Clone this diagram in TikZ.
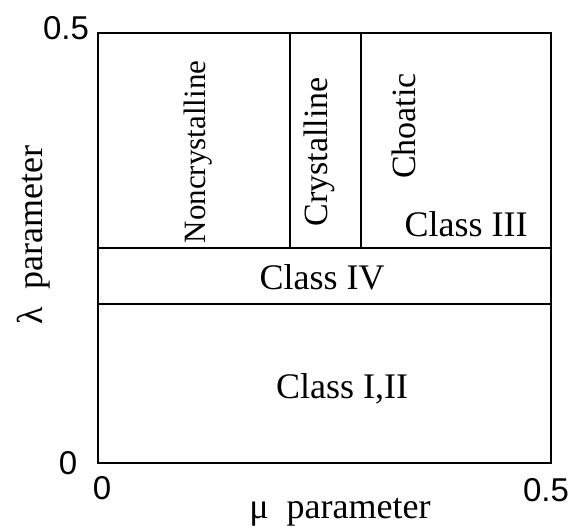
\documentclass[tikz,border=0pt]{standalone}
\usepackage{fontspec}
\setmainfont{Liberation Serif}
\newfontfamily\numfont{Liberation Sans}
\usetikzlibrary{positioning}

\begin{document}
\begin{tikzpicture}[x=1pt, y=-1pt, line width=1.8pt,
		lbl/.style={inner sep=0pt, font=\fontsize{36}{40}\selectfont},
		vlbl/.style={inner sep=0pt, rotate=90, font=\fontsize{34}{38}\selectfont},
		num/.style={inner sep=0pt, font=\numfont\fontsize{33}{38}\selectfont}]
			% Fix the size of the picture
			\useasboundingbox (0,0) rectangle (571,526);

			% The frame and the lines that split it
			\draw (98,33) rectangle (551,463);
			\foreach \y in {248,304}
				{\draw (98,\y) -- (551,\y);}
			\foreach \x in {290,361}
				{\draw (\x,33) -- (\x,248);}

			% Names of the regions
			\node[vlbl, font=\fontsize{31}{36}\selectfont] (noncryst) at (198,152) {Noncrystalline};
			\node[vlbl] (cryst) at (319,152) {Crystalline};
			\node[vlbl] (chaotic) at (404,126) {Choatic};
			\node[lbl] (c3) at (466,224) {Class III};
			\node[lbl] (c4) at (322,277) {Class IV};
			\node[lbl] (c12) at (342,389) {Class I,II};

			% Axis ends and axis names
			\node[num] (ytop) at (66,28) {0.5};
			\node[num] (yzero) at (68,463) {0};
			\node[num] (xzero) at (102,488) {0};
			\node[num] (xtop) at (546,490) {0.5};
			\node[lbl, anchor=base] (xname) at (340,519) {μ\ \ parameter};
			\node[lbl, rotate=90, anchor=base] (yname) at (42,235) {λ\ \ parameter};
		\end{tikzpicture}
\end{document}
